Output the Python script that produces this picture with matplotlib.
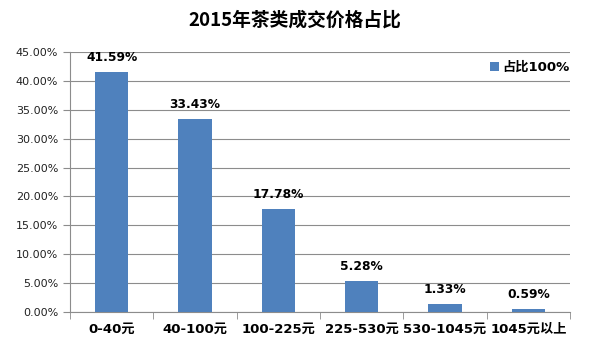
import matplotlib
matplotlib.use("Agg")
import matplotlib.pyplot as plt
from matplotlib.ticker import FuncFormatter, MultipleLocator

plt.rcParams['font.family'] = ['DejaVu Sans', 'Noto Sans CJK SC']

categories = ["0-40元", "40-100元", "100-225元", "225-530元", "530-1045元", "1045元以上"]
values = [41.59, 33.43, 17.78, 5.28, 1.33, 0.59]
series_name = "占比100%"
title = "2015年茶类成交价格占比"

fig = plt.figure(figsize=(5.89, 3.52), dpi=100)
ax = fig.add_axes([70/589, 1-312/352, 500/589, 260/352])

x = list(range(len(categories)))
ax.bar(x, values, width=0.4, color="#4F81BD", label=series_name, zorder=3)
for xi, v in zip(x, values):
    ax.annotate(f"{v:.2f}%", (xi, v), xytext=(0, 10.5), textcoords="offset points",
                ha="center", va="center", fontsize=8.8, fontweight="bold", color="#000000")

ax.set_xlim(-0.5, len(categories) - 0.5)
ax.set_ylim(0, 45)
ax.yaxis.set_major_locator(MultipleLocator(5))
ax.yaxis.set_major_formatter(FuncFormatter(lambda v, p: f"{v:.2f}%"))
ax.grid(axis="y", color="#8c8c8c", linewidth=0.8, zorder=0)
ax.set_xticks(x)
ax.set_xticklabels(categories, fontsize=9.5, fontweight="bold")
ax.set_xticks([i - 0.5 for i in range(len(categories) + 1)], minor=True)
ax.tick_params(axis="x", which="major", length=0, pad=8)
ax.tick_params(axis="x", which="minor", length=5, color="#8c8c8c", direction="out")
ax.tick_params(axis="y", length=5, color="#8c8c8c", labelsize=8, labelcolor="#222222")
for s in ["top", "right"]:
    ax.spines[s].set_visible(False)
ax.spines["left"].set_color("#8c8c8c")
ax.spines["bottom"].set_color("#8c8c8c")

ax.legend(loc="center right", bbox_to_anchor=(1.0, 0.94), frameon=False, borderpad=0,
          borderaxespad=0, handlelength=0.7, handleheight=0.7, handletextpad=0.3,
          prop={"weight": "bold", "size": 9.5})

fig.text(0.5, 1-20/352, title, ha="center", va="center", fontsize=13.5, fontweight="bold",
         family=['Noto Sans CJK SC', 'DejaVu Sans'])
fig.savefig("out.png", dpi=100)
